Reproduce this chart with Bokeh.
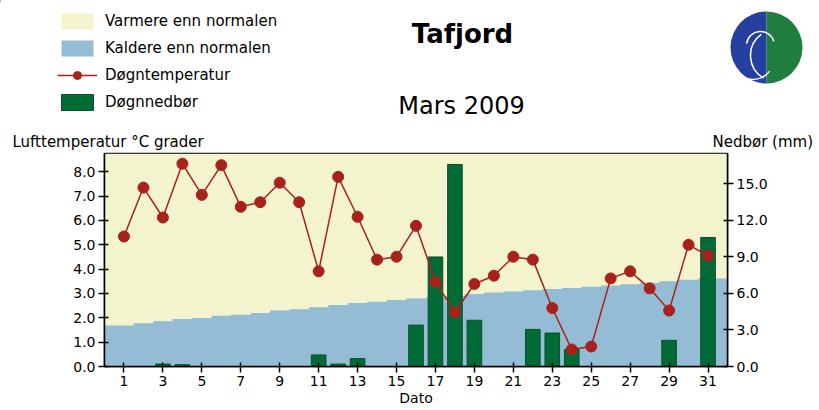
from bokeh.plotting import figure
from bokeh.layouts import column
from bokeh.models import (Range1d, LinearAxis, FixedTicker, NumeralTickFormatter,
                          Legend, LegendItem)
from bokeh.core.properties import value
from bokeh.embed import file_html
from bokeh.resources import INLINE
import math

# ---- data ----
days = list(range(1, 32))
temperature = [5.34, 7.35, 6.12, 8.33, 7.05, 8.27, 6.56, 6.75, 7.55, 6.75,
               3.91, 7.79, 6.15, 4.39, 4.51, 5.78, 3.48, 2.23, 3.39, 3.73,
               4.51, 4.39, 2.40, 0.70, 0.82, 3.62, 3.91, 3.21, 2.30, 5.00, 4.55]
normal = [1.68, 1.78, 1.86, 1.95, 1.99, 2.08, 2.13, 2.20, 2.30, 2.35,
          2.43, 2.53, 2.61, 2.66, 2.73, 2.79, 2.84, 2.90, 2.98, 3.04,
          3.08, 3.13, 3.18, 3.22, 3.28, 3.33, 3.38, 3.44, 3.50, 3.56, 3.62]
precip = [0, 0, 0.2, 0.15, 0, 0, 0, 0, 0, 0,
          0.95, 0.2, 0.65, 0, 0, 3.4, 9.0, 16.6, 3.8, 0,
          0, 3.05, 2.75, 1.4, 0, 0, 0, 0, 2.15, 0, 10.6]
x_ticks = list(range(1, 32, 2))
temp_ticks = [0, 1, 2, 3, 4, 5, 6, 7, 8]
precip_ticks = [0, 3, 6, 9, 12, 15]
legend_labels = ["Varmere enn normalen", "Kaldere enn normalen",
                 "Døgntemperatur", "Døgnnedbør"]

YELLOW = "#F3F3CE"
BLUE = "#94BCD4"
GREEN = "#006B36"
RED = "#A8221C"
FONT = "DejaVu Sans"
W = 819
H = 410

# ================= header (legend, titles, logo) =================
HH = 150
h = figure(width=W, height=HH, x_range=Range1d(0, W), y_range=Range1d(HH, 0),
           output_backend="svg", toolbar_location=None,
           x_axis_type=None, y_axis_type=None, min_border=0)
h.outline_line_color = None
h.grid.visible = False
try:
    h.frame_align = False
except Exception:
    pass

# legend swatch renderers (their data lies outside the visible header range)
lw = h.varea(x=[-50, -40], y1=[0, 0], y2=[1, 1], fill_color=YELLOW)
lc = h.varea(x=[-50, -40], y1=[0, 0], y2=[1, 1], fill_color=BLUE)
ll = h.line(x=[-50, -40], y=[0, 0], line_color=RED, line_width=1.5)
lp = h.scatter(x=[-50], y=[0], size=11, fill_color=RED, line_color=RED)
lb = h.vbar(x=[-50], top=[1], width=1, fill_color=GREEN, line_color="#0E4F2A")

legend = Legend(items=[
    LegendItem(label=legend_labels[0], renderers=[lw]),
    LegendItem(label=legend_labels[1], renderers=[lc]),
    LegendItem(label=legend_labels[2], renderers=[ll, lp]),
    LegendItem(label=legend_labels[3], renderers=[lb]),
], location=(57, HH - 112))
legend.padding = 0
legend.spacing = 7
legend.glyph_width = 40
legend.glyph_height = 20
legend.label_height = 20
legend.label_standoff = 8
legend.label_text_font = FONT
legend.label_text_font_size = "15px"
legend.label_text_color = "black"
legend.border_line_alpha = 0
legend.background_fill_alpha = 0
h.add_layout(legend)

def txt(x, y, t, size, style="normal", align="left"):
    h.text(x=[x], y=[y], text=[t], text_font=value(FONT), text_font_size=size,
           text_font_style=style, text_align=align, text_baseline="middle",
           text_color="black")

txt(462, 33, "Tafjord", "26px", "bold", "center")
txt(461, 105, "Mars 2009", "24px", "normal", "center")
txt(12, 141, "Lufttemperatur °C grader", "15px")
txt(712, 141, "Nedbør (mm)", "15px")

# logo approximation
cx, cy, r = 766, 47, 36
h.wedge(x=[cx], y=[cy], radius=r, start_angle=math.pi / 2, end_angle=3 * math.pi / 2,
        fill_color="#25409E", line_color=None)
h.wedge(x=[cx], y=[cy], radius=r, start_angle=-math.pi / 2, end_angle=math.pi / 2,
        fill_color="#1F7D3E", line_color=None)
h.arc(x=[cx - 6, cx + 10, cx - 14], y=[cy - 2, cy + 8, cy + 10], radius=[14, 26, 22],
      start_angle=[0.3, 2.2, 3.6], end_angle=[3.0, 4.2, 5.6],
      line_color="white", line_width=1.5)

# ================= main chart =================
p = figure(width=W, height=H - HH, x_range=Range1d(0, 32), y_range=Range1d(0, 8.75),
           output_backend="svg", toolbar_location=None,
           min_border_left=104, min_border_right=92, min_border_top=3, min_border_bottom=44)
try:
    p.frame_align = False
except Exception:
    pass
p.extra_y_ranges = {"precip": Range1d(0, 17.5)}
p.background_fill_color = YELLOW
p.border_fill_color = "white"
p.outline_line_color = "black"
p.outline_line_width = 1.5
p.grid.visible = False

sx = [0] + days + [32]
sn = [normal[0]] + normal + [normal[-1]]
top = [8.75] * len(sx)

p.varea_step(x=sx, y1=sn, y2=top, step_mode="center", fill_color=YELLOW)
p.varea_step(x=sx, y1=[0] * len(sx), y2=sn, step_mode="center", fill_color=BLUE)
p.vbar(x=days, top=precip, width=0.75, y_range_name="precip",
       fill_color=GREEN, line_color="#0E4F2A", line_width=1)
p.line(days, temperature, line_color=RED, line_width=1.5)
p.scatter(days, temperature, size=11, fill_color=RED, line_color=RED)

def style_axis(ax, ticks):
    ax.ticker = FixedTicker(ticks=ticks)
    ax.minor_tick_line_color = None
    ax.major_tick_out = 6
    ax.major_tick_in = 4
    ax.axis_line_width = 1.5
    ax.major_tick_line_width = 1.5
    ax.axis_line_color = "black"
    ax.major_tick_line_color = "black"
    ax.major_label_text_font = FONT
    ax.major_label_text_font_size = "14px"
    ax.major_label_text_color = "black"

style_axis(p.xaxis[0], x_ticks)
p.xaxis[0].major_label_standoff = 3
p.xaxis[0].axis_label = "Dato"
p.xaxis[0].axis_label_text_font = FONT
p.xaxis[0].axis_label_text_font_size = "14px"
p.xaxis[0].axis_label_text_font_style = "normal"
p.xaxis[0].axis_label_text_color = "black"
p.xaxis[0].axis_label_standoff = 1
style_axis(p.yaxis[0], temp_ticks)
p.yaxis[0].formatter = NumeralTickFormatter(format="0.0")
p.yaxis[0].major_label_standoff = 3

right = LinearAxis(y_range_name="precip")
style_axis(right, precip_ticks)
right.formatter = NumeralTickFormatter(format="0.0")
right.major_label_standoff = 3
p.add_layout(right, "right")

open("out.html", "w").write(file_html(column(h, p, spacing=0), INLINE))
